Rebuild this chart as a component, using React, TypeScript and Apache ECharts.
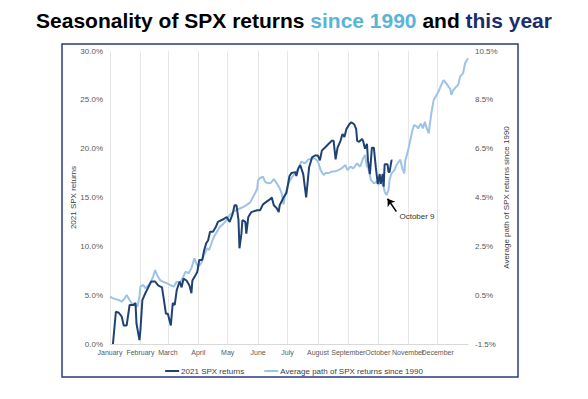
import React, { useEffect, useRef } from 'react';
import * as echarts from 'echarts';

const monthStarts = [0, 31, 59, 90, 120, 151, 181, 212, 243, 273, 304, 334];
const monthNames = ['January', 'February', 'March', 'April', 'May', 'June', 'July', 'August', 'September', 'October', 'November', 'December'];

// 2021 SPX returns (left axis, %), x = day of year
const ytdDays = [3, 6, 9, 12, 14, 17, 20, 24, 26, 27, 30, 31, 33, 36, 39, 42, 46, 49, 53, 55, 57, 59, 62, 64, 66, 68, 71, 73, 75, 78, 81, 83, 84, 88, 89, 91, 94, 96, 98, 100, 102, 105, 108, 110, 116, 119, 122, 125, 127, 129, 131, 132, 134, 135, 138, 139, 141, 144, 150, 153, 156, 160, 163, 165, 167, 170, 172, 173, 177, 180, 183, 185, 189, 190, 192, 194, 197, 200, 202, 203, 206, 209, 212, 214, 216, 219, 223, 226, 228, 230, 232, 235, 237, 239, 241, 244, 246, 249, 251, 252, 254, 257, 258, 260, 262, 263, 265, 267, 269, 271, 273, 275, 276, 278, 279, 280, 283, 284, 285, 287, 288];
const ytdReturns = [0.0, 3.3, 3.2, 2.8, 1.9, 1.9, 4.0, 4.0, 4.2, 2.1, 0.4, 1.4, 4.5, 5.2, 5.8, 6.4, 6.4, 6.0, 5.8, 4.5, 3.1, 3.1, 1.9, 4.2, 4.0, 5.5, 6.4, 5.8, 6.7, 6.5, 6.0, 5.2, 6.5, 7.2, 7.4, 8.6, 8.6, 9.6, 10.3, 10.6, 11.5, 11.5, 12.0, 12.5, 12.8, 13.0, 12.5, 13.3, 14.2, 14.2, 12.7, 9.8, 11.3, 12.7, 12.5, 11.3, 13.0, 13.5, 13.7, 13.7, 14.3, 14.6, 14.8, 15.0, 14.2, 13.9, 13.5, 14.2, 15.0, 15.5, 17.2, 17.5, 17.6, 17.2, 18.0, 18.3, 17.4, 15.0, 17.1, 18.1, 19.1, 19.3, 19.3, 18.8, 19.8, 20.1, 20.5, 20.8, 20.8, 18.9, 20.1, 20.8, 21.5, 21.2, 22.0, 22.5, 22.7, 22.5, 22.0, 20.8, 20.7, 21.0, 20.8, 20.0, 20.5, 18.8, 17.4, 20.1, 20.1, 18.1, 16.4, 17.4, 16.4, 17.4, 16.1, 18.4, 18.4, 17.6, 17.6, 18.8, 18.8];

// Average path of SPX returns since 1990 (right axis, %)
const avgDays = [0, 3, 9, 12, 15, 17, 20, 22, 26, 28, 30, 31, 34, 36, 38, 41, 44, 46, 48, 51, 54, 58, 61, 65, 68, 71, 74, 77, 80, 83, 86, 88, 90, 93, 95, 99, 101, 104, 106, 109, 112, 116, 119, 122, 126, 129, 133, 136, 139, 143, 146, 150, 151, 153, 156, 158, 161, 164, 167, 170, 173, 175, 177, 178, 182, 185, 189, 192, 195, 199, 202, 206, 209, 212, 215, 218, 220, 223, 226, 229, 233, 236, 240, 242, 245, 248, 252, 255, 258, 260, 262, 263, 266, 269, 272, 274, 275, 277, 279, 280, 282, 284, 285, 287, 290, 292, 296, 298, 300, 301, 304, 308, 310, 313, 314, 317, 319, 321, 323, 325, 326, 328, 330, 332, 335, 337, 340, 343, 345, 347, 348, 350, 353, 355, 357, 360, 362, 365];
const avgReturns = [0.44, 0.37, 0.30, 0.23, 0.37, 0.51, 0.30, 0.17, 0.10, 0.03, 0.44, 0.85, 0.92, 0.78, 0.85, 0.99, 1.26, 1.53, 1.33, 1.12, 1.05, 0.99, 0.92, 0.85, 1.05, 0.99, 1.19, 1.46, 1.40, 1.60, 2.01, 1.80, 1.67, 1.80, 2.07, 2.42, 2.35, 2.69, 2.89, 3.10, 3.30, 3.44, 3.58, 3.78, 3.92, 3.99, 4.06, 4.12, 4.19, 4.30, 4.53, 4.85, 5.2, 5.3, 5.35, 5.15, 5.08, 5.1, 5.25, 5.08, 4.88, 4.67, 4.22, 4.53, 5.08, 5.3, 5.5, 5.68, 5.97, 5.90, 6.05, 6.10, 6.10, 5.97, 5.6, 5.42, 5.5, 5.5, 5.56, 5.56, 5.62, 5.69, 5.83, 5.62, 5.76, 5.69, 5.90, 5.76, 6.10, 6.24, 5.76, 5.76, 5.22, 5.08, 5.15, 5.01, 5.35, 5.08, 4.94, 4.74, 4.60, 4.81, 5.22, 5.49, 5.62, 5.83, 6.05, 5.7, 5.49, 6.0, 6.44, 7.19, 7.47, 7.40, 7.33, 7.53, 7.33, 7.60, 7.33, 7.13, 7.47, 8.05, 8.49, 8.63, 8.85, 9.04, 9.31, 9.17, 9.04, 8.95, 8.70, 8.90, 9.04, 9.11, 9.45, 9.59, 10.0, 10.2];

// annotation: arrow from / to (day, right-axis %) and label
const arrowFrom = [292, 3.92];
const arrowTo = [283, 4.45];
const noteLabel = 'October 9';
const notePos = [313, 3.74];

const FONT = 'Liberation Sans';
// November's label sits on its own overlay axis so that ECharts does not drop it for touching December
const novemberStart = monthStarts[10];
const mainLabelDays = monthStarts.filter((d) => d !== novemberStart);

export default function App() {
  const ref = useRef<HTMLDivElement>(null);
  useEffect(() => {
    document.body.style.margin = '0';
    const chart = echarts.init(ref.current!, null, { renderer: 'svg' });
    const ytd = ytdDays.map((d, i) => [d, ytdReturns[i]]);
    const avg = avgDays.map((d, i) => [d, avgReturns[i]]);
    const monthLabel = (v: number) => monthNames[monthStarts.indexOf(v)] ?? '';
    const labelStyle = { fontSize: 7, color: '#595959', margin: 5, fontFamily: FONT, hideOverlap: false, formatter: monthLabel };
    chart.setOption({
      animation: false,
      backgroundColor: '#fff',
      textStyle: { fontFamily: FONT },
      title: {
        left: 'center',
        top: 5,
        text: '{a|Seasonality of SPX returns }{b|since 1990}{a| and }{c|this year}',
        textStyle: {
          rich: {
            a: { fontSize: 21, fontWeight: 'bold', color: '#000', fontFamily: FONT },
            b: { fontSize: 21, fontWeight: 'bold', color: '#5ab4d6', fontFamily: FONT },
            c: { fontSize: 21, fontWeight: 'bold', color: '#1b2d6b', fontFamily: FONT },
          },
        },
      },
      graphic: [
        {
          type: 'rect',
          shape: { x: 62, y: 44, width: 456, height: 333 },
          style: { fill: 'none', stroke: '#2b3a86', lineWidth: 1.5 },
          silent: true,
        },
      ],
      legend: {
        top: 362,
        left: 'center',
        icon: 'rect',
        itemWidth: 14,
        itemHeight: 2,
        itemGap: 20,
        data: ['2021 SPX returns', 'Average path of SPX returns since 1990'],
        textStyle: { fontSize: 8, color: '#404040', fontFamily: FONT, padding: [0, 0, 0, -3] },
      },
      grid: { left: 110, right: 120, top: 51, bottom: 55 },
      xAxis: [
        {
          type: 'value',
          min: 0,
          max: 365,
          axisLine: { show: true, lineStyle: { color: '#d9d9d9' } },
          axisTick: { show: false, customValues: monthStarts },
          splitLine: { show: true, lineStyle: { color: '#e6e6e6', width: 1 } },
          axisLabel: { ...labelStyle, customValues: mainLabelDays },
        },
        {
          type: 'value',
          min: 0,
          max: 365,
          position: 'bottom',
          offset: 0,
          axisLine: { show: false },
          axisTick: { show: false, customValues: [novemberStart] },
          splitLine: { show: false },
          axisLabel: { ...labelStyle, customValues: [novemberStart] },
        },
      ],
      yAxis: [
        {
          type: 'value',
          min: 0,
          max: 30,
          interval: 5,
          name: '2021 SPX returns',
          nameLocation: 'middle',
          nameGap: 33,
          nameRotate: 90,
          nameMoveOverlap: false,
          nameTextStyle: { fontSize: 8, color: '#404040', fontFamily: FONT },
          axisLine: { show: false },
          axisTick: { show: false },
          splitLine: { show: false },
          axisLabel: { fontSize: 8, color: '#595959', margin: 7, fontFamily: FONT, formatter: (v: number) => v.toFixed(1) + '%' },
        },
        {
          type: 'value',
          min: -1.5,
          max: 10.5,
          interval: 2,
          position: 'right',
          name: 'Average path of SPX returns since 1990',
          nameLocation: 'middle',
          nameGap: 34,
          nameRotate: 90,
          nameMoveOverlap: false,
          nameTextStyle: { fontSize: 8, color: '#404040', fontFamily: FONT },
          axisLine: { show: false },
          axisTick: { show: false },
          splitLine: { show: false },
          axisLabel: { fontSize: 8, color: '#595959', margin: 7, fontFamily: FONT, formatter: (v: number) => v.toFixed(1) + '%' },
        },
      ],
      series: [
        {
          name: 'Average path of SPX returns since 1990',
          type: 'line',
          xAxisIndex: 0,
          yAxisIndex: 1,
          data: avg,
          symbol: 'none',
          lineStyle: { color: '#9dc3e6', width: 2 },
          itemStyle: { color: '#9dc3e6' },
          markLine: {
            silent: true,
            symbol: ['none', 'arrow'],
            symbolSize: 7,
            label: { show: false },
            lineStyle: { color: '#000', width: 1.5, type: 'solid' },
            data: [[{ coord: arrowFrom }, { coord: arrowTo }]],
          },
          markPoint: {
            silent: true,
            symbol: 'circle',
            symbolSize: 0.1,
            data: [
              {
                coord: notePos,
                label: { show: true, position: 'inside', formatter: noteLabel, color: '#333', fontSize: 8, fontFamily: FONT },
              },
            ],
          },
        },
        {
          name: '2021 SPX returns',
          type: 'line',
          xAxisIndex: 0,
          yAxisIndex: 0,
          data: ytd,
          symbol: 'none',
          lineStyle: { color: '#1f4275', width: 2 },
          itemStyle: { color: '#1f4275' },
        },
      ],
    });
    return () => chart.dispose();
  }, []);
  return <div ref={ref} style={{ width: 588, height: 399 }} />;
}
